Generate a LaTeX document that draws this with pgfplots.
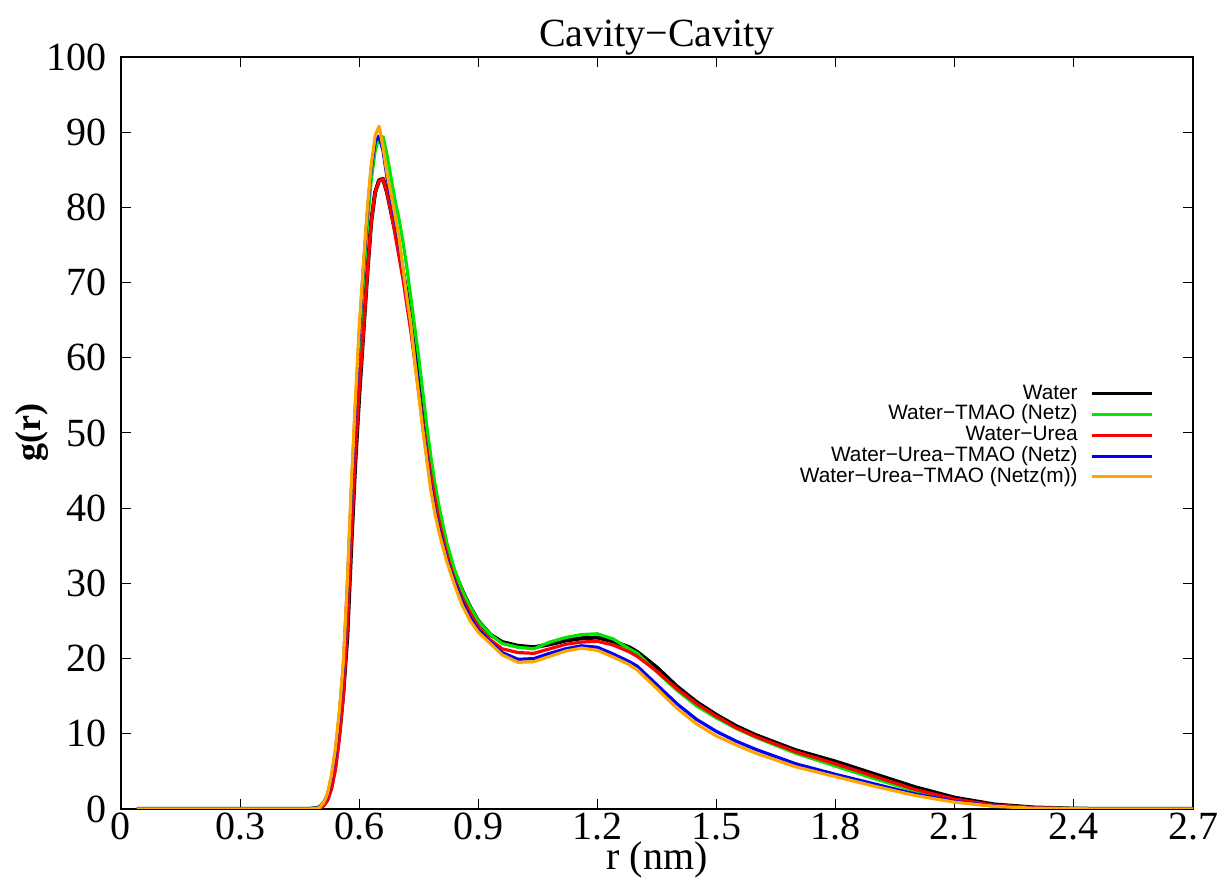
\documentclass[border=0pt]{standalone}
\usepackage{fontspec}
\setmainfont{Liberation Serif}
\newfontfamily\legfont{Liberation Sans}
\usepackage{pgfplots}
\pgfplotsset{compat=1.18}
\definecolor{gpgreen}{RGB}{0,230,0}
\definecolor{gporange}{RGB}{255,165,0}
\begin{document}
\begin{tikzpicture}
\begin{axis}[
  scale only axis, width=536pt, height=376pt,
  xmin=0, xmax=2.7, ymin=0, ymax=100,
  xtick={0,0.3,0.6,0.9,1.2,1.5,1.8,2.1,2.4,2.7},
  xticklabels={0,0.3,0.6,0.9,1.2,1.5,1.8,2.1,2.4,2.7},
  ytick={0,10,...,100},
  tick align=inside, major tick length=5pt,
  tick style={black, line width=0.5pt},
  axis line style={line width=0.8pt},
  /pgf/number format/assume math mode=true,
  tick label style={font=\fontsize{20}{20}\selectfont},
  xticklabel style={inner sep=1pt, yshift=-1pt},
  yticklabel style={inner sep=1pt, xshift=-6pt},
  title={Cavity−Cavity},
  title style={font=\fontsize{20}{20}\selectfont, at={(axis description cs:0.5,1)}, anchor=base, yshift=-1pt},
  xlabel={r (nm)},
  xlabel style={font=\fontsize{20}{20}\selectfont, at={(axis description cs:0.5,-0.08)}, anchor=base},
  ylabel={\textbf{g(r)}},
  ylabel style={font=\fontsize{18}{18}\selectfont, at={(axis description cs:-0.083,0.5)}, anchor=center},
  legend plot pos=right,
  legend cell align=right,
  legend style={draw=none, fill=none, at={(axis description cs:0.9688,0.572)}, anchor=north east,
    font=\legfont\fontsize{10.4}{11}\selectfont, row sep=0pt,
    nodes={inner xsep=2pt, inner ysep=0pt, text height=7.9pt, text depth=2.5pt}},
  legend image code/.code={\path (0pt,0pt); \draw[#1, line width=1.5pt] (4pt,0pt) -- (34pt,0pt);},
  every axis plot/.append style={line width=1.6pt, line join=round},
]
% Water
\addplot[black, line width=2pt] coordinates {
(0.04,0) (0.47,0) (0.49,0.1) (0.50,0.2) (0.51,0.5) (0.52,1.3) (0.53,3.0) (0.54,5.8) (0.55,10) (0.56,15.5)
(0.57,23) (0.58,35) (0.59,46) (0.60,55) (0.61,63) (0.62,71) (0.63,78) (0.64,82) (0.65,83.6) (0.66,83.8)
(0.67,82) (0.68,79.5) (0.69,77) (0.70,74.5) (0.71,71.5) (0.72,68.5) (0.73,65) (0.74,61) (0.75,57) (0.76,53)
(0.77,49) (0.78,45.5) (0.79,42.5) (0.80,39.5) (0.82,35) (0.84,31.5) (0.86,29) (0.88,26.8) (0.90,25) (0.93,23.2)
(0.96,22.2) (1.00,21.7) (1.04,21.5) (1.08,21.9) (1.12,22.4) (1.16,22.7) (1.20,22.8) (1.24,22.3) (1.28,21.5) (1.30,20.9)
(1.35,18.8) (1.40,16.3) (1.45,14.2) (1.50,12.5) (1.55,11) (1.60,9.8) (1.70,7.8) (1.80,6.3) (1.90,4.6) (2.00,2.9)
(2.10,1.5) (2.20,0.6) (2.30,0.2) (2.40,0.05) (2.50,0) (2.70,0)
};
\addlegendentry{Water}
% Water-TMAO (Netz)
\addplot[gpgreen] coordinates {
(0.04,0) (0.47,0) (0.49,0.1) (0.50,0.3) (0.51,0.8) (0.52,1.8) (0.53,3.9) (0.54,7.2) (0.55,12) (0.56,18)
(0.57,27.5) (0.58,39) (0.59,50.5) (0.60,61) (0.61,70) (0.62,77.5) (0.63,83.5) (0.64,87.5) (0.65,89.3) (0.66,89.4)
(0.67,87) (0.68,84) (0.69,81) (0.70,78.5) (0.71,75.5) (0.72,72) (0.73,68) (0.74,64) (0.75,60) (0.76,55.5)
(0.77,51) (0.78,47) (0.79,43.5) (0.80,40.5) (0.82,35.5) (0.84,31.8) (0.86,29) (0.88,26.8) (0.90,25) (0.93,23.2)
(0.96,22) (1.00,21.5) (1.04,21.3) (1.08,22.2) (1.12,22.8) (1.16,23.2) (1.20,23.3) (1.24,22.6) (1.28,21.3) (1.30,20.7)
(1.35,18.2) (1.40,15.8) (1.45,13.7) (1.50,12.1) (1.55,10.7) (1.60,9.5) (1.70,7.4) (1.80,5.7) (1.90,4.0) (2.00,2.4)
(2.10,1.1) (2.20,0.45) (2.30,0.15) (2.40,0.04) (2.50,0) (2.70,0)
};
\addlegendentry{Water−TMAO (Netz)}
% Water-Urea
\addplot[red] coordinates {
(0.04,0) (0.48,0) (0.50,0.1) (0.51,0.4) (0.52,1.1) (0.53,2.6) (0.54,5.2) (0.55,9.5) (0.56,15)
(0.57,24) (0.58,36) (0.59,47) (0.60,56) (0.61,63) (0.62,71) (0.63,78) (0.64,82) (0.65,83.5) (0.66,83.8)
(0.67,82) (0.68,79.5) (0.69,76.5) (0.70,73.5) (0.71,70.5) (0.72,67) (0.73,63.5) (0.74,59.5) (0.75,55.5) (0.76,51.5)
(0.77,48) (0.78,44.5) (0.79,41.5) (0.80,38.5) (0.82,34) (0.84,30.5) (0.86,28) (0.88,26) (0.90,24.2) (0.93,22.5)
(0.96,21.3) (1.00,20.8) (1.04,20.7) (1.08,21.3) (1.12,21.9) (1.16,22.2) (1.20,22.3) (1.24,21.8) (1.28,20.9) (1.30,20.3)
(1.35,18.3) (1.40,16.0) (1.45,14.0) (1.50,12.3) (1.55,10.8) (1.60,9.6) (1.70,7.6) (1.80,6.0) (1.90,4.3) (2.00,2.6)
(2.10,1.3) (2.20,0.5) (2.30,0.17) (2.40,0.04) (2.50,0) (2.70,0)
};
\addlegendentry{Water−Urea}
% Water-Urea-TMAO (Netz)
\addplot[blue] coordinates {
(0.04,0) (0.47,0) (0.49,0.1) (0.50,0.3) (0.51,0.8) (0.52,1.9) (0.53,4.2) (0.54,7.6) (0.55,12.6) (0.56,19)
(0.57,29.5) (0.58,42) (0.59,53) (0.60,63) (0.61,71.5) (0.62,79) (0.63,85) (0.64,88.7) (0.65,89.5) (0.66,87.5)
(0.67,84) (0.68,81.2) (0.69,78.5) (0.70,75.5) (0.71,71.8) (0.72,68) (0.73,64.5) (0.74,60) (0.75,55.5) (0.76,51)
(0.77,47) (0.78,43) (0.79,40) (0.80,37.5) (0.82,33.3) (0.84,30.2) (0.86,27.5) (0.88,25.4) (0.90,23.8) (0.93,22.2)
(0.96,20.8) (1.00,19.9) (1.04,20.0) (1.08,20.7) (1.12,21.3) (1.16,21.7) (1.20,21.5) (1.24,20.6) (1.28,19.6) (1.30,19.0)
(1.35,16.5) (1.40,14.0) (1.45,11.9) (1.50,10.3) (1.55,9.0) (1.60,7.9) (1.70,6.0) (1.80,4.6) (1.90,3.3) (2.00,2.0)
(2.10,1.0) (2.20,0.4) (2.30,0.12) (2.40,0.03) (2.50,0) (2.70,0)
};
\addlegendentry{Water−Urea−TMAO (Netz)}
% Water-Urea-TMAO (Netz(m))
\addplot[gporange] coordinates {
(0.04,0) (0.47,0) (0.49,0.05) (0.50,0.2) (0.51,0.8) (0.52,2.0) (0.53,4.5) (0.54,8) (0.55,13) (0.56,19.5)
(0.57,30) (0.58,43) (0.59,54) (0.60,64) (0.61,72) (0.62,79.5) (0.63,85.5) (0.64,89.5) (0.65,90.8) (0.66,88)
(0.67,84.5) (0.68,81.8) (0.69,79) (0.70,76) (0.71,72) (0.72,68) (0.73,64.5) (0.74,59.5) (0.75,55) (0.76,50.5)
(0.77,46.5) (0.78,42.5) (0.79,39.5) (0.80,37) (0.82,33) (0.84,29.8) (0.86,27) (0.88,25) (0.90,23.5) (0.93,22)
(0.96,20.5) (1.00,19.5) (1.04,19.6) (1.08,20.3) (1.12,21.0) (1.16,21.4) (1.20,21.1) (1.24,20.2) (1.28,19.2) (1.30,18.5)
(1.35,16) (1.40,13.4) (1.45,11.3) (1.50,9.7) (1.55,8.5) (1.60,7.4) (1.70,5.6) (1.80,4.3) (1.90,3.0) (2.00,1.8)
(2.10,0.9) (2.20,0.35) (2.30,0.1) (2.40,0.03) (2.50,0) (2.70,0)
};
\addlegendentry{Water−Urea−TMAO (Netz(m))}
\end{axis}
\pgfresetboundingbox
\path[use as bounding box] ([shift={(-60.5pt,-38.5pt)}]current axis.south west) rectangle ([shift={(18.5pt,28.5pt)}]current axis.north east);
\end{tikzpicture}
\end{document}
